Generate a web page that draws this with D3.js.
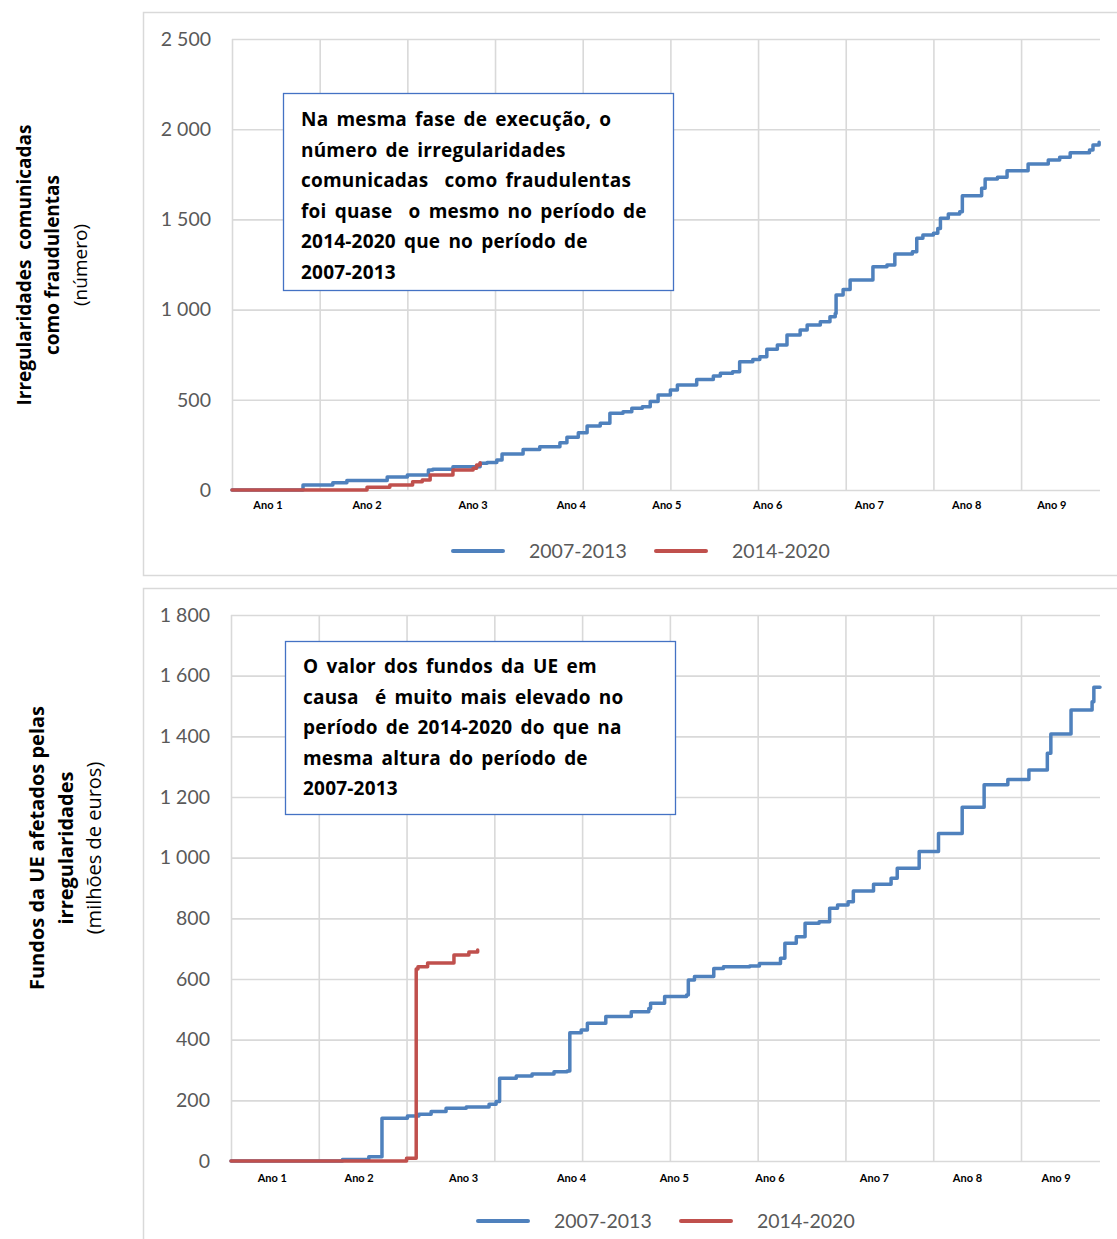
<!DOCTYPE html>
<html lang="pt">
<head>
<meta charset="utf-8">
<script src="https://cdn.jsdelivr.net/npm/d3@7"></script>
<style>
  html, body { margin: 0; padding: 0; background: #fff; }
  svg { display: block; font-family: Lato, "Open Sans", "Noto Sans", sans-serif; }
  text { white-space: pre; }
  .wide { font-family: "Open Sans", "Noto Sans", sans-serif; }
</style>
</head>
<body>
<svg id="chart" width="1117" height="1239"></svg>
<script>
// ---- data ----------------------------------------------------------------
// x values are positions along the programme timeline (0 .. 99), gridlines every 10
const xExtent = [0, 99];
const xGridValues = d3.range(0, 100, 10);

const seriesNames = ["2007-2013", "2014-2020"];
const yearLabels = ["Ano 1", "Ano 2", "Ano 3", "Ano 4", "Ano 5", "Ano 6", "Ano 7", "Ano 8", "Ano 9"];

// Fraudulent irregularities (number, cumulative)
const fraudYTicks = [0, 500, 1000, 1500, 2000, 2500];
const fraudYearPos = [4.1, 15.4, 27.5, 38.7, 49.6, 61.1, 72.7, 83.8, 93.5];
const fraud0713 = [
  [0, 0], [8.1, 28], [11.5, 40], [13.1, 52], [17.7, 72], [20.0, 83], [22.4, 111], [22.9, 115],
  [25.2, 129], [28.3, 148], [29.1, 153], [30.2, 166], [30.8, 200], [33.2, 225], [35.1, 240],
  [37.4, 262], [38.2, 292], [39.5, 318], [40.5, 355], [42.0, 370], [43.1, 425], [44.6, 434],
  [45.6, 453], [46.8, 462], [47.7, 490], [48.6, 527], [50.0, 554], [50.8, 582], [53.0, 613],
  [54.9, 632], [55.7, 647], [57.1, 656], [57.9, 711], [59.4, 724], [60.2, 739], [61.0, 780],
  [62.2, 804], [63.3, 859], [64.8, 887], [65.6, 915], [67.1, 933], [68.2, 961], [68.8, 979],
  [68.9, 1081], [69.7, 1112], [70.5, 1164], [73.1, 1238], [74.7, 1247], [75.6, 1308],
  [77.6, 1321], [78.1, 1395], [78.8, 1413], [80.0, 1423], [80.5, 1450], [80.8, 1506],
  [81.7, 1530], [83.0, 1543], [83.3, 1631], [85.5, 1672], [85.9, 1724], [87.3, 1733],
  [88.4, 1770], [90.8, 1807], [93.1, 1829], [94.4, 1844], [95.6, 1870], [97.8, 1885],
  [98.2, 1912], [98.9, 1927]
];
const fraud1420 = [
  [0, 0], [15.4, 15], [18.0, 28], [20.6, 46], [21.7, 55], [22.6, 83], [25.2, 111],
  [27.5, 120], [27.9, 139], [28.3, 151]
];

// EU funds affected by irregularities (million euro, cumulative)
const fundsYTicks = [0, 200, 400, 600, 800, 1000, 1200, 1400, 1600, 1800];
const fundsYearPos = [4.7, 14.6, 26.5, 38.8, 50.5, 61.4, 73.3, 83.9, 94.0];
const funds0713 = [
  [0, 0], [12.7, 5], [15.7, 14], [17.2, 141], [20.1, 148], [21.4, 154], [22.8, 163],
  [24.5, 174], [26.8, 178], [29.4, 187], [30.2, 196], [30.6, 273], [32.5, 280], [34.3, 287],
  [36.8, 294], [38.3, 297], [38.6, 423], [39.9, 432], [40.6, 454], [42.7, 476], [45.6, 492],
  [47.6, 503], [47.8, 520], [49.4, 542], [51.9, 547], [52.1, 597], [52.8, 608], [55.0, 635],
  [56.1, 640], [59.1, 643], [60.2, 651], [62.6, 668], [63.1, 718], [64.4, 739], [65.4, 784],
  [67.0, 789], [68.2, 833], [69.1, 844], [70.3, 855], [70.9, 890], [73.2, 912], [75.2, 932],
  [75.9, 965], [78.4, 1020], [80.6, 1080], [83.3, 1166], [85.8, 1240], [88.5, 1258],
  [90.9, 1289], [93.0, 1344], [93.4, 1408], [95.7, 1487], [98.1, 1514], [98.3, 1562], [99, 1562]
];
const funds1420 = [
  [0, 0], [20.0, 9], [21.1, 633], [21.3, 640], [22.4, 653], [25.4, 679], [27.1, 689], [28.1, 696]
];

// ---- drawing -------------------------------------------------------------
const svg = d3.select("#chart");
const COLORS = ["#4f81bd", "#c0504d"];
const GRID = "#d9d9d9";
const fmt = d3.formatLocale({ decimal: ",", thousands: " ", grouping: [3], currency: ["", " €"] }).format(",d");

const panels = [
  {
    frame: { x: 143, y: 12, w: 1000, h: 563 },
    plot: { left: 232, right: 1100, top: 39, bottom: 490 },
    yMax: 2500, yTicks: fraudYTicks, yearPos: fraudYearPos, yearDy: 19,
    series: [fraud0713, fraud1420],
    legend: { y: 551, starts: [453, 656] },
    title: { cy: 265, size: 19, lines: [
      { t: "Irregularidades  comunicadas", x: 24, bold: true },
      { t: "como fraudulentas", x: 52, bold: true },
      { t: "(número)", x: 80, bold: false }
    ]},
    box: { x: 283, y: 93, w: 390, h: 197, tx: 301, ty: 126, lines: [
      "Na mesma fase de execução, o",
      "número de irregularidades",
      "comunicadas  como fraudulentas",
      "foi quase  o mesmo no período de",
      "2014-2020 que no período de",
      "2007-2013"
    ]}
  },
  {
    frame: { x: 143, y: 588, w: 1000, h: 700 },
    plot: { left: 231, right: 1100, top: 615, bottom: 1161 },
    yMax: 1800, yTicks: fundsYTicks, yearPos: fundsYearPos, yearDy: 21,
    series: [funds0713, funds1420],
    legend: { y: 1221, starts: [478, 681] },
    title: { cy: 848, size: 20, lines: [
      { t: "Fundos da UE afetados pelas", x: 36, bold: true },
      { t: "irregularidades", x: 65, bold: true },
      { t: "(milhões de euros)", x: 93, bold: false }
    ]},
    box: { x: 285, y: 641, w: 390, h: 173, tx: 303, ty: 673, lines: [
      "O valor dos fundos da UE em",
      "causa  é muito mais elevado no",
      "período de 2014-2020 do que na",
      "mesma altura do período de",
      "2007-2013"
    ]}
  }
];

panels.forEach(p => {
  const g = svg.append("g");
  const { left, right, top, bottom } = p.plot;

  g.append("rect")
    .attr("x", p.frame.x + 0.5).attr("y", p.frame.y + 0.5)
    .attr("width", p.frame.w).attr("height", p.frame.h)
    .attr("fill", "#fff").attr("stroke", GRID).attr("stroke-width", 1.5);

  const x = d3.scaleLinear().domain(xExtent).range([left, right]);
  const y = d3.scaleLinear().domain([0, p.yMax]).range([bottom, top]);

  // vertical gridlines
  const xg = g.append("g")
    .attr("transform", `translate(0,${bottom})`)
    .call(d3.axisBottom(x).tickValues(xGridValues).tickSize(-(bottom - top)).tickFormat(""));
  xg.select(".domain").remove();
  xg.selectAll(".tick line").attr("stroke", GRID).attr("stroke-width", 1.6);

  // horizontal gridlines + value labels
  const yg = g.append("g")
    .attr("transform", `translate(${left},0)`)
    .call(d3.axisLeft(y).tickValues(p.yTicks).tickSize(-(right - left)).tickPadding(21).tickFormat(fmt));
  yg.select(".domain").remove();
  yg.selectAll(".tick line").attr("stroke", GRID).attr("stroke-width", 1.6);
  yg.selectAll(".tick text")
    .attr("fill", "#595959").attr("font-size", 19.5)
    .attr("font-family", "Lato, sans-serif");

  // year labels
  g.append("g").selectAll("text")
    .data(yearLabels)
    .join("text")
    .attr("x", (d, i) => x(p.yearPos[i]))
    .attr("y", bottom + p.yearDy)
    .attr("text-anchor", "middle")
    .attr("font-size", 11).attr("font-weight", 700).attr("fill", "#000")
    .text(d => d);

  // series
  const line = d3.line()
    .x(d => x(d[0]))
    .y(d => y(d[1]))
    .curve(d3.curveStepAfter);
  p.series.forEach((s, i) => {
    g.append("path")
      .datum(s)
      .attr("d", line)
      .attr("fill", "none")
      .attr("stroke", COLORS[i])
      .attr("stroke-width", 3.5)
      .attr("stroke-linejoin", "round")
      .attr("stroke-linecap", "round");
  });

  // legend
  const lg = g.append("g");
  seriesNames.forEach((name, i) => {
    const sx = p.legend.starts[i];
    lg.append("line")
      .attr("x1", sx).attr("x2", sx + 50)
      .attr("y1", p.legend.y).attr("y2", p.legend.y)
      .attr("stroke", COLORS[i]).attr("stroke-width", 4).attr("stroke-linecap", "round");
    lg.append("text")
      .attr("x", sx + 76).attr("y", p.legend.y + 7)
      .attr("font-size", 19.5).attr("fill", "#595959")
      .text(name);
  });

  // axis title (rotated)
  p.title.lines.forEach(l => {
    g.append("text")
      .attr("class", "wide")
      .attr("transform", `translate(${l.x},${p.title.cy}) rotate(-90)`)
      .attr("text-anchor", "middle")
      .attr("dominant-baseline", "central")
      .attr("font-size", p.title.size)
      .attr("font-weight", l.bold ? 700 : 400)
      .attr("fill", "#000")
      .text(l.t);
  });

  // annotation box
  const b = p.box;
  g.append("rect")
    .attr("x", b.x + 0.5).attr("y", b.y + 0.5)
    .attr("width", b.w).attr("height", b.h)
    .attr("fill", "#fff").attr("stroke", "#4472c4").attr("stroke-width", 1.3);
  g.append("g").selectAll("text")
    .data(b.lines)
    .join("text")
    .attr("class", "wide")
    .attr("x", b.tx)
    .attr("y", (d, i) => b.ty + i * 30.6)
    .attr("font-size", 19).attr("font-weight", 700).attr("fill", "#000")
    .attr("letter-spacing", 0.2)
    .attr("word-spacing", 3)
    .text(d => d);
});
</script>
</body>
</html>
